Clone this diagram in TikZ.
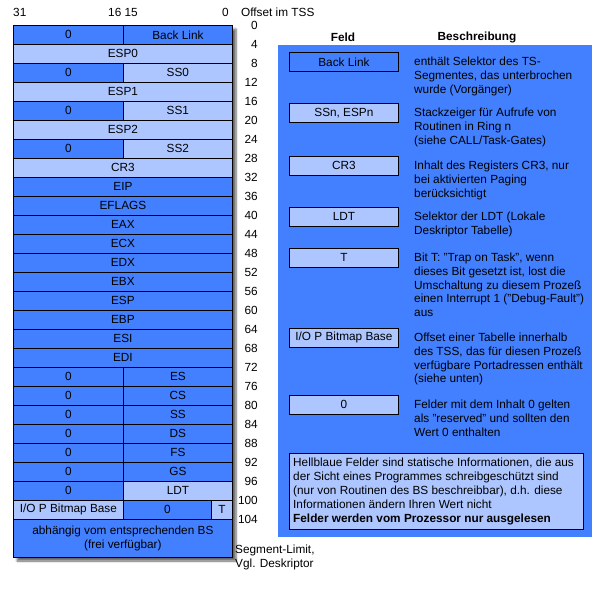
\documentclass[tikz,border=0pt]{standalone}
\usepackage{fontspec}
\setmainfont{Liberation Sans}
\usepackage{tikz}
\usetikzlibrary{positioning}
\usetikzlibrary{shadows.blur}
\usetikzlibrary{calc}

\definecolor{tssdark}{RGB}{66,128,255}
\definecolor{tsslight}{RGB}{173,198,255}

\begin{document}
\begin{tikzpicture}[x=1pt, y=-1pt, font=\fontsize{11.8}{13.7}\selectfont]

\tikzset{%
    every field/.style = {
        draw,
        line width=0.8pt,
        inner sep=0pt,
        anchor=north west,
        minimum height=19pt
    },
    field dark/.style = {fill=tssdark},
    field light/.style = {fill=tsslight},
    offset/.style = {anchor=east, inner sep=0pt},
    desc/.style = {anchor=north west, align=left, inner sep=0pt}
}

\useasboundingbox (0,0) rectangle (600,600);

% TSS table
\fill [white, blur shadow={shadow xshift=4pt, shadow yshift=-4pt, shadow blur steps=6, shadow opacity=60}]
  (13,25) rectangle (232,557);

\foreach \i/\l/\c in {2/ESP0/light, 4/ESP1/light, 6/ESP2/light, 8/CR3/light,
    9/EIP/dark, 10/EFLAGS/dark, 11/EAX/dark, 12/ECX/dark, 13/EDX/dark,
    14/EBX/dark, 15/ESP/dark, 16/EBP/dark, 17/ESI/dark, 18/EDI/dark}
  \node [every field/.try, field \c/.try, minimum width=219pt]
    (row-\i) at (13,{6+19*\i}) {\l};

\foreach \i/\l/\c in {1/Back Link/dark, 3/SS0/light, 5/SS1/light, 7/SS2/light,
    19/ES/dark, 20/CS/dark, 21/SS/dark, 22/DS/dark, 23/FS/dark, 24/GS/dark,
    25/LDT/light}
{
  \node [every field/.try, field dark, minimum width=110pt]
    (zero-\i) at (13,{6+19*\i}) {0};
  \node [every field/.try, field \c/.try, minimum width=109pt]
    (sel-\i) at (123,{6+19*\i}) {\l};
}

\node [every field/.try, field light, minimum width=110pt] (iopb) at (13,500) {I/O P Bitmap Base};
\node [every field/.try, field dark, minimum width=88pt] (zero-26) at (123,500) {0};
\node [every field/.try, field light, minimum width=21pt] (tbit) at (211,500) {T};

\node [every field/.try, field dark, minimum width=219pt, minimum height=38pt, align=center]
  (free) at (13,519) {abhängig vom entsprechenden BS\\(frei verfügbar)};

% bit numbers and offsets
\node [anchor=west, inner sep=0pt] (bit-31) at (13,12) {31};
\node [inner sep=0pt] (bit-16) at (123,12) {16 15};
\node [anchor=east, inner sep=0pt] (bit-0) at (229,12) {0};
\node [anchor=west, inner sep=0pt] (offset) at (241,12) {Offset im TSS};

\foreach \o [count=\i from 0] in {0,4,...,104}
  \node [offset] (off-\o) at (258,{25+19*\i}) {\o};

\node [desc] (limit) at (235,545) {Segment-Limit,\\Vgl. Deskriptor};

% legend
\node [fill=tssdark, inner sep=0pt, anchor=north west, minimum width=314pt,
  minimum height=492pt] (panel) at (278,45) {};

\node [font=\fontsize{11.8}{13.7}\selectfont\bfseries] (feld) at (343,37) {Feld};
\node [font=\fontsize{11.8}{13.7}\selectfont\bfseries] (beschr) at (477,37) {Beschreibung};

\foreach \t/\l/\c/\txt [count=\i] in {
    52/Back Link/dark/{enthält Selektor des TS-\\Segmentes, das unterbrochen\\wurde (Vorgänger)},
    103/{SSn, ESPn}/light/{Stackzeiger für Aufrufe von\\Routinen in Ring n\\(siehe CALL/Task-Gates)},
    156/CR3/light/{Inhalt des Registers CR3, nur\\bei aktivierten Paging\\berücksichtigt},
    207/LDT/light/{Selektor der LDT (Lokale\\Deskriptor Tabelle)},
    248/T/light/{Bit T: "Trap on Task", wenn\\dieses Bit gesetzt ist, lost die\\Umschaltung zu diesem Prozeß\\einen Interrupt 1 ("Debug-Fault")\\aus},
    328/{I/O P Bitmap Base}/light/{Offset einer Tabelle innerhalb\\des TSS, das für diesen Prozeß\\verfügbare Portadressen enthält\\(siehe unten)},
    395/0/light/{Felder mit dem Inhalt 0 gelten\\als "reserved" und sollten den\\Wert 0 enthalten}}
{
  \node [every field/.try, field \c/.try, minimum width=109pt] (key-\i) at (289,\t) {\l};
  \node [desc] (desc-\i) at (414,{\t+5}) {\txt};
}

\node [every field/.try, field light, minimum width=294pt, minimum height=76pt] (note) at (289,453) {};
\node [desc, font=\fontsize{11.8}{14}\selectfont] (note-text) at (293,458) {Hellblaue Felder sind statische Informationen, die aus\\der Sicht eines Programmes schreibgeschützt sind\\(nur von Routinen des BS beschreibbar), d.h. diese\\Informationen ändern Ihren Wert nicht\\\textbf{Felder werden vom Prozessor nur ausgelesen}};

\end{tikzpicture}
\end{document}
